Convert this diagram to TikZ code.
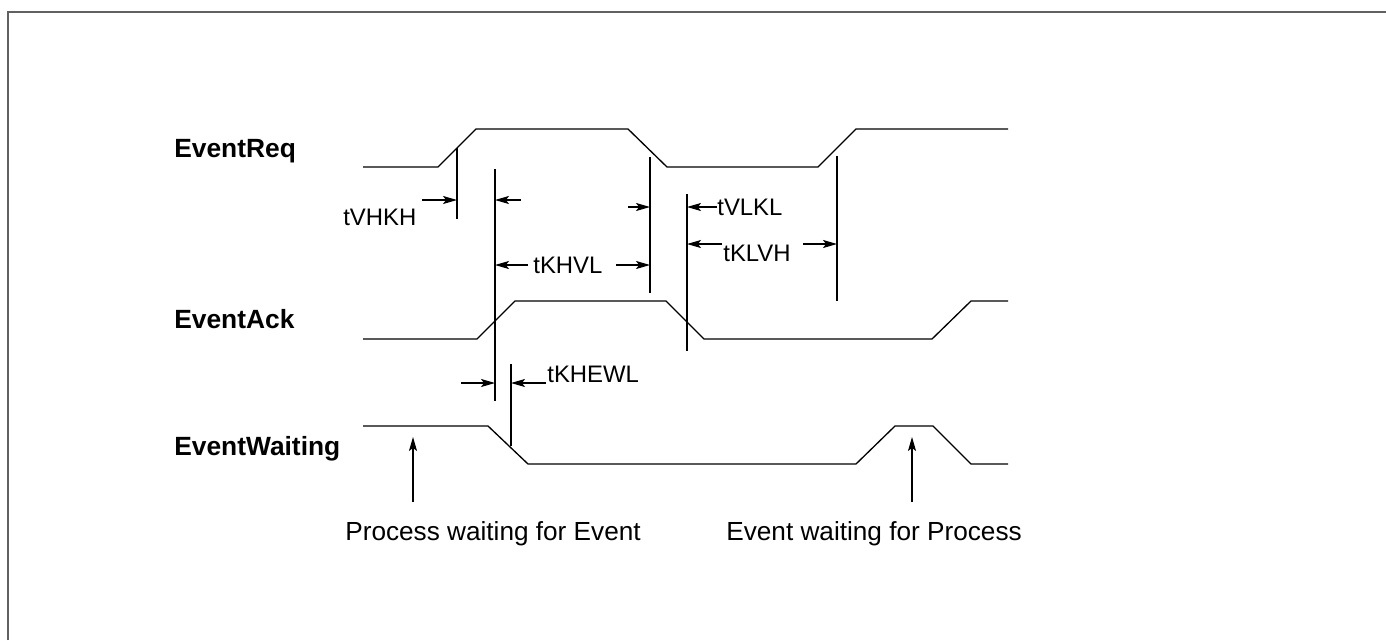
\documentclass[tikz,border=0pt]{standalone}
\usepackage{fontspec}
\setmainfont{Liberation Sans}
\usetikzlibrary{arrows.meta}
\begin{document}
\begin{tikzpicture}[x=0.02cm,y=-0.02cm,
  sig/.style={line width=0.75pt, line join=miter},
  tline/.style={line width=1.2pt},
  dim/.style={line width=0.65pt, -{Stealth[length=8pt,width=4.6pt,inset=1.8pt]}},
  lbl/.style={font=\bfseries\fontsize{15}{18}\selectfont, inner sep=0pt, anchor=base west},
  tlbl/.style={font=\fontsize{13.6}{16}\selectfont, inner sep=0pt, anchor=base west},
  note/.style={font=\fontsize{14.9}{18}\selectfont, inner sep=0pt, anchor=base west}]
\useasboundingbox (0,0) rectangle (1386,640);
% frame (left and top edges visible)
\draw[line width=1.2pt, draw=black!62] (8,640) -- (8,12) -- (1386,12);

% signal names
\node[lbl] (nreq) at (174,157) {EventReq};
\node[lbl] (nack) at (174,328) {EventAck};
\node[lbl] (nwait) at (174,455) {EventWaiting};

% waveforms
\draw[sig] (363,167) -- (438,167) -- (476,129) -- (628,129) -- (667,167) -- (818,167) -- (856,129) -- (1008,129);
\draw[sig] (363,339) -- (477,339) -- (515,301) -- (666,301) -- (704,339) -- (932,339) -- (971,301) -- (1008,301);
\draw[sig] (363,426) -- (488,426) -- (528,464) -- (856,464) -- (895,426) -- (933,426) -- (971,464) -- (1008,464);

% timing reference lines
\coordinate (a1) at (457,148); \coordinate (a2) at (457,219);
\coordinate (b1) at (495,169); \coordinate (b2) at (495,401);
\coordinate (c1) at (650,157); \coordinate (c2) at (650,293);
\coordinate (d1) at (687,194); \coordinate (d2) at (687,351);
\coordinate (e1) at (837,156); \coordinate (e2) at (837,301);
\coordinate (f1) at (511,364); \coordinate (f2) at (511,446);
\foreach \p in {a,b,c,d,e,f} \draw[tline] (\p1) -- (\p2);

% tVHKH
\node[tlbl] (tvhkh) at (343,225) {tVHKH};
\coordinate (s1) at (422,200); \coordinate (s2) at (521,200);
\draw[dim] (s1) -- (s1 -| a1);
\draw[dim] (s2) -- (s2 -| b1);

% tKHVL
\node[tlbl] (tkhvl) at (533,273) {tKHVL};
\coordinate (s3) at (528,265); \coordinate (s4) at (616,265);
\draw[dim] (s3) -- (s3 -| b1);
\draw[dim] (s4) -- (s4 -| c1);

% tVLKL
\node[tlbl] (tvlkl) at (717,215) {tVLKL};
\coordinate (s5) at (628,207); \coordinate (s6) at (717,207);
\draw[dim] (s5) -- (s5 -| c1);
\draw[dim] (s6) -- (s6 -| d1);

% tKLVH
\node[tlbl] (tklvh) at (723,261) {tKLVH};
\coordinate (s7) at (722,244); \coordinate (s8) at (803,244);
\draw[dim] (s7) -- (s7 -| d1);
\draw[dim] (s8) -- (s8 -| e1);

% tKHEWL
\node[tlbl] (tkhewl) at (547,382) {tKHEWL};
\coordinate (s9) at (461,383); \coordinate (s10) at (546,383);
\draw[dim] (s9) -- (s9 -| b1);
\draw[dim] (s10) -- (s10 -| f1);

% notes
\node[note] (pw) at (345,540) {Process waiting for Event};
\node[note] (ew) at (726,540) {Event waiting for Process};
\coordinate (p1) at (413,502); \coordinate (p2) at (413,437);
\coordinate (q1) at (912,502); \coordinate (q2) at (912,437);
\draw[dim] (p1) -- (p2);
\draw[dim] (q1) -- (q2);
\end{tikzpicture}
\end{document}
